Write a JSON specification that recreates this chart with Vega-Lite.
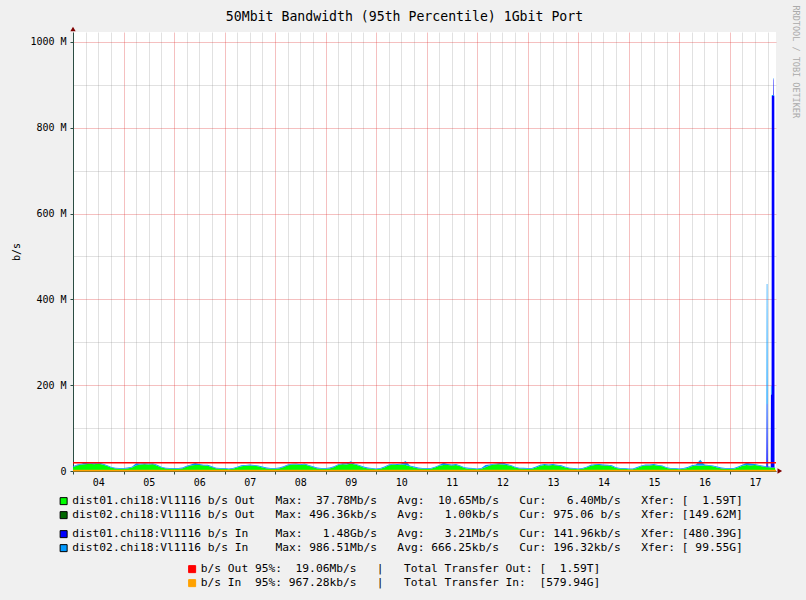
{
"$schema": "https://vega.github.io/schema/vega-lite/v6.json",
"width": 703, "height": 439,
"autosize": {"type": "none"},
"padding": {"left": 73, "top": 32, "right": 30, "bottom": 129},
"background": "#f0f0f0",
"config": {
  "view": {"fill": "#ffffff", "stroke": null},
  "axis": {"labelFont": "DejaVu Sans Mono", "labelFontSize": 10, "labelColor": "#000000", "titleFont": "DejaVu Sans Mono", "titleFontWeight": "normal", "titleColor": "#000000"}
},
"datasets": {
  "traffic": [
{"h":0,"out1":9,"out2":0.001,"in1":0.2,"in2":1.8},
{"h":2,"out1":13,"out2":0.001,"in1":0.2,"in2":2.1},
{"h":4,"out1":15,"out2":0.001,"in1":0.2,"in2":1.6},
{"h":6,"out1":16,"out2":0.001,"in1":0.2,"in2":4.5},
{"h":8,"out1":17,"out2":0.001,"in1":0.2,"in2":2.0},
{"h":10,"out1":16,"out2":0.001,"in1":0.2,"in2":1.7},
{"h":12,"out1":17,"out2":0.001,"in1":0.2,"in2":4.0},
{"h":14,"out1":15,"out2":0.001,"in1":0.2,"in2":2.2},
{"h":16,"out1":12,"out2":0.001,"in1":0.2,"in2":1.5},
{"h":18,"out1":8,"out2":0.001,"in1":0.2,"in2":1.9},
{"h":20,"out1":6,"out2":0.001,"in1":0.2,"in2":1.6},
{"h":22,"out1":5,"out2":0.001,"in1":0.2,"in2":2.0},
{"h":24,"out1":5,"out2":0.001,"in1":0.2,"in2":1.7},
{"h":26,"out1":6,"out2":0.001,"in1":0.2,"in2":2.0},
{"h":28,"out1":8,"out2":0.001,"in1":0.2,"in2":1.5},
{"h":30,"out1":13,"out2":0.001,"in1":0.2,"in2":5.0},
{"h":32,"out1":15,"out2":0.001,"in1":0.2,"in2":2.2},
{"h":34,"out1":16,"out2":0.001,"in1":0.2,"in2":1.8},
{"h":36,"out1":15,"out2":0.001,"in1":0.2,"in2":2.0},
{"h":38,"out1":16,"out2":0.001,"in1":0.2,"in2":1.6},
{"h":40,"out1":12,"out2":0.001,"in1":0.2,"in2":2.1},
{"h":42,"out1":8,"out2":0.001,"in1":0.2,"in2":1.7},
{"h":44,"out1":6,"out2":0.001,"in1":0.2,"in2":1.5},
{"h":46,"out1":5,"out2":0.001,"in1":0.2,"in2":1.9},
{"h":48,"out1":5,"out2":0.001,"in1":0.2,"in2":1.6},
{"h":50,"out1":5,"out2":0.001,"in1":0.2,"in2":2.0},
{"h":52,"out1":6,"out2":0.001,"in1":0.2,"in2":1.8},
{"h":54,"out1":10,"out2":0.001,"in1":0.2,"in2":2.2},
{"h":56,"out1":13,"out2":0.001,"in1":0.2,"in2":1.7},
{"h":58,"out1":14,"out2":0.001,"in1":0.2,"in2":4.5},
{"h":60,"out1":14,"out2":0.001,"in1":0.2,"in2":2.0},
{"h":62,"out1":13,"out2":0.001,"in1":0.2,"in2":1.6},
{"h":64,"out1":12,"out2":0.001,"in1":0.2,"in2":2.1},
{"h":66,"out1":9,"out2":0.001,"in1":0.2,"in2":1.8},
{"h":68,"out1":6,"out2":0.001,"in1":0.2,"in2":1.5},
{"h":70,"out1":5,"out2":0.001,"in1":0.2,"in2":1.9},
{"h":72,"out1":5,"out2":0.001,"in1":0.2,"in2":1.7},
{"h":74,"out1":4,"out2":0.001,"in1":0.2,"in2":1.5},
{"h":76,"out1":5,"out2":0.001,"in1":0.2,"in2":2.0},
{"h":78,"out1":8,"out2":0.001,"in1":0.2,"in2":1.8},
{"h":80,"out1":11,"out2":0.001,"in1":0.2,"in2":2.2},
{"h":82,"out1":12,"out2":0.001,"in1":0.2,"in2":1.6},
{"h":84,"out1":13,"out2":0.001,"in1":0.2,"in2":2.0},
{"h":86,"out1":12,"out2":0.001,"in1":0.2,"in2":1.9},
{"h":88,"out1":11,"out2":0.001,"in1":0.2,"in2":1.5},
{"h":90,"out1":8,"out2":0.001,"in1":0.2,"in2":2.1},
{"h":92,"out1":6,"out2":0.001,"in1":0.2,"in2":1.7},
{"h":94,"out1":5,"out2":0.001,"in1":0.2,"in2":1.6},
{"h":96,"out1":5,"out2":0.001,"in1":0.2,"in2":1.8},
{"h":98,"out1":6,"out2":0.001,"in1":0.2,"in2":2.0},
{"h":100,"out1":9,"out2":0.001,"in1":0.2,"in2":1.6},
{"h":102,"out1":13,"out2":0.001,"in1":0.2,"in2":2.2},
{"h":104,"out1":15,"out2":0.001,"in1":0.2,"in2":1.9},
{"h":106,"out1":15,"out2":0.001,"in1":0.2,"in2":2.4},
{"h":108,"out1":14,"out2":0.001,"in1":0.2,"in2":1.7},
{"h":110,"out1":15,"out2":0.001,"in1":0.2,"in2":2.0},
{"h":112,"out1":12,"out2":0.001,"in1":0.2,"in2":1.6},
{"h":114,"out1":9,"out2":0.001,"in1":0.2,"in2":1.8},
{"h":116,"out1":6,"out2":0.001,"in1":0.2,"in2":2.1},
{"h":118,"out1":5,"out2":0.001,"in1":0.2,"in2":1.5},
{"h":120,"out1":5,"out2":0.001,"in1":0.2,"in2":1.7},
{"h":122,"out1":6,"out2":0.001,"in1":0.2,"in2":1.9},
{"h":124,"out1":9,"out2":0.001,"in1":0.2,"in2":2.1},
{"h":126,"out1":14,"out2":0.001,"in1":0.2,"in2":1.6},
{"h":128,"out1":16,"out2":0.001,"in1":0.2,"in2":2.0},
{"h":130,"out1":15,"out2":0.001,"in1":0.2,"in2":3.0},
{"h":132,"out1":17,"out2":0.001,"in1":0.2,"in2":5.5},
{"h":134,"out1":15,"out2":0.001,"in1":0.2,"in2":1.8},
{"h":136,"out1":12,"out2":0.001,"in1":0.2,"in2":1.6},
{"h":138,"out1":8,"out2":0.001,"in1":0.2,"in2":2.0},
{"h":140,"out1":6,"out2":0.001,"in1":0.2,"in2":1.7},
{"h":142,"out1":5,"out2":0.001,"in1":0.2,"in2":1.5},
{"h":144,"out1":4,"out2":0.001,"in1":0.2,"in2":1.8},
{"h":146,"out1":5,"out2":0.001,"in1":0.2,"in2":1.6},
{"h":148,"out1":8,"out2":0.001,"in1":0.2,"in2":2.0},
{"h":150,"out1":13,"out2":0.001,"in1":0.2,"in2":2.2},
{"h":152,"out1":15,"out2":0.001,"in1":0.2,"in2":1.7},
{"h":154,"out1":14,"out2":0.001,"in1":0.2,"in2":1.9},
{"h":156,"out1":15,"out2":0.001,"in1":0.2,"in2":2.1},
{"h":158,"out1":14,"out2":0.001,"in1":0.2,"in2":9.0},
{"h":160,"out1":11,"out2":0.001,"in1":0.2,"in2":1.6},
{"h":162,"out1":8,"out2":0.001,"in1":0.2,"in2":2.0},
{"h":164,"out1":6,"out2":0.001,"in1":0.2,"in2":1.8},
{"h":166,"out1":5,"out2":0.001,"in1":0.2,"in2":1.5},
{"h":168,"out1":5,"out2":0.001,"in1":0.2,"in2":1.9},
{"h":170,"out1":5,"out2":0.001,"in1":0.2,"in2":1.7},
{"h":172,"out1":8,"out2":0.001,"in1":0.2,"in2":1.6},
{"h":174,"out1":12,"out2":0.001,"in1":0.2,"in2":2.0},
{"h":176,"out1":14,"out2":0.001,"in1":0.2,"in2":5.0},
{"h":178,"out1":14,"out2":0.001,"in1":0.2,"in2":2.2},
{"h":180,"out1":13,"out2":0.001,"in1":0.2,"in2":1.8},
{"h":182,"out1":14,"out2":0.001,"in1":0.2,"in2":2.0},
{"h":184,"out1":11,"out2":0.001,"in1":0.2,"in2":1.5},
{"h":186,"out1":7,"out2":0.001,"in1":0.2,"in2":1.7},
{"h":188,"out1":5,"out2":0.001,"in1":0.2,"in2":2.1},
{"h":190,"out1":5,"out2":0.001,"in1":0.2,"in2":1.6},
{"h":192,"out1":4,"out2":0.001,"in1":0.2,"in2":1.7},
{"h":194,"out1":5,"out2":0.001,"in1":0.2,"in2":2.0},
{"h":196,"out1":9,"out2":0.001,"in1":0.2,"in2":4.5},
{"h":198,"out1":13,"out2":0.001,"in1":0.2,"in2":2.1},
{"h":200,"out1":15,"out2":0.001,"in1":0.2,"in2":1.8},
{"h":202,"out1":16,"out2":0.001,"in1":0.2,"in2":1.6},
{"h":204,"out1":15,"out2":0.001,"in1":0.2,"in2":5.0},
{"h":206,"out1":14,"out2":0.001,"in1":0.2,"in2":2.0},
{"h":208,"out1":12,"out2":0.001,"in1":0.2,"in2":1.7},
{"h":210,"out1":8,"out2":0.001,"in1":0.2,"in2":1.9},
{"h":212,"out1":6,"out2":0.001,"in1":0.2,"in2":1.6},
{"h":214,"out1":5,"out2":0.001,"in1":0.2,"in2":2.2},
{"h":216,"out1":5,"out2":0.001,"in1":0.2,"in2":1.8},
{"h":218,"out1":5,"out2":0.001,"in1":0.2,"in2":1.6},
{"h":220,"out1":8,"out2":0.001,"in1":0.2,"in2":2.0},
{"h":222,"out1":12,"out2":0.001,"in1":0.2,"in2":2.2},
{"h":224,"out1":14,"out2":0.001,"in1":0.2,"in2":1.9},
{"h":226,"out1":13,"out2":0.001,"in1":0.2,"in2":1.7},
{"h":228,"out1":14,"out2":0.001,"in1":0.2,"in2":2.1},
{"h":230,"out1":13,"out2":0.001,"in1":0.2,"in2":1.6},
{"h":232,"out1":11,"out2":0.001,"in1":0.2,"in2":2.0},
{"h":234,"out1":8,"out2":0.001,"in1":0.2,"in2":1.8},
{"h":236,"out1":6,"out2":0.001,"in1":0.2,"in2":1.5},
{"h":238,"out1":5,"out2":0.001,"in1":0.2,"in2":1.7},
{"h":240,"out1":4,"out2":0.001,"in1":0.2,"in2":1.6},
{"h":242,"out1":5,"out2":0.001,"in1":0.2,"in2":2.0},
{"h":244,"out1":8,"out2":0.001,"in1":0.2,"in2":1.8},
{"h":246,"out1":12,"out2":0.001,"in1":0.2,"in2":2.1},
{"h":248,"out1":14,"out2":0.001,"in1":0.2,"in2":1.7},
{"h":250,"out1":14,"out2":0.001,"in1":0.2,"in2":2.3},
{"h":252,"out1":13,"out2":0.001,"in1":0.2,"in2":1.9},
{"h":254,"out1":13,"out2":0.001,"in1":0.2,"in2":1.6},
{"h":256,"out1":11,"out2":0.001,"in1":0.2,"in2":2.0},
{"h":258,"out1":7,"out2":0.001,"in1":0.2,"in2":1.7},
{"h":260,"out1":5,"out2":0.001,"in1":0.2,"in2":1.8},
{"h":262,"out1":5,"out2":0.001,"in1":0.2,"in2":1.5},
{"h":264,"out1":4,"out2":0.001,"in1":0.2,"in2":1.9},
{"h":266,"out1":4,"out2":0.001,"in1":0.2,"in2":1.6},
{"h":268,"out1":7,"out2":0.001,"in1":0.2,"in2":2.1},
{"h":270,"out1":11,"out2":0.001,"in1":0.2,"in2":1.8},
{"h":272,"out1":13,"out2":0.001,"in1":0.2,"in2":2.0},
{"h":274,"out1":13,"out2":0.001,"in1":0.2,"in2":1.7},
{"h":276,"out1":14,"out2":0.001,"in1":0.2,"in2":2.2},
{"h":278,"out1":12,"out2":0.001,"in1":0.2,"in2":1.6},
{"h":280,"out1":11,"out2":0.001,"in1":0.2,"in2":1.9},
{"h":282,"out1":7,"out2":0.001,"in1":0.2,"in2":1.8},
{"h":284,"out1":5,"out2":0.001,"in1":0.2,"in2":1.5},
{"h":286,"out1":5,"out2":0.001,"in1":0.2,"in2":1.7},
{"h":288,"out1":4,"out2":0.001,"in1":0.2,"in2":1.8},
{"h":290,"out1":5,"out2":0.001,"in1":0.2,"in2":1.6},
{"h":292,"out1":7,"out2":0.001,"in1":0.2,"in2":2.0},
{"h":294,"out1":11,"out2":0.001,"in1":0.2,"in2":2.2},
{"h":296,"out1":13,"out2":0.001,"in1":0.2,"in2":1.7},
{"h":298,"out1":12,"out2":0.001,"in1":0.2,"in2":14.0},
{"h":300,"out1":13,"out2":0.001,"in1":0.2,"in2":2.0},
{"h":302,"out1":12,"out2":0.001,"in1":0.2,"in2":1.8},
{"h":304,"out1":11,"out2":0.001,"in1":0.2,"in2":1.6},
{"h":306,"out1":8,"out2":0.001,"in1":0.2,"in2":2.1},
{"h":308,"out1":6,"out2":0.001,"in1":0.2,"in2":1.7},
{"h":310,"out1":5,"out2":0.001,"in1":0.2,"in2":1.9},
{"h":312,"out1":5,"out2":0.001,"in1":0.2,"in2":1.8},
{"h":314,"out1":5,"out2":0.001,"in1":0.2,"in2":1.6},
{"h":316,"out1":8,"out2":0.001,"in1":0.2,"in2":2.0},
{"h":318,"out1":12,"out2":0.001,"in1":0.2,"in2":2.1},
{"h":320,"out1":14,"out2":0.001,"in1":0.2,"in2":5.0},
{"h":322,"out1":13,"out2":0.001,"in1":0.2,"in2":4.5},
{"h":324,"out1":14,"out2":0.001,"in1":0.2,"in2":1.9},
{"h":326,"out1":12,"out2":0.001,"in1":0.2,"in2":1.7},
{"h":328,"out1":10,"out2":0.001,"in1":0.2,"in2":1.8},
{"h":329.4,"out1":9,"out2":0.001,"in1":0.2,"in2":1.8},
{"h":329.6,"out1":9,"out2":0.001,"in1":147,"in2":280},
{"h":329.9,"out1":9,"out2":0.001,"in1":147,"in2":280},
{"h":330.1,"out1":9,"out2":0.001,"in1":0.2,"in2":1.7},
{"h":331.5,"out1":8,"out2":0.001,"in1":0.2,"in2":1.8},
{"h":331.6,"out1":8,"out2":0.001,"in1":170,"in2":20},
{"h":331.9,"out1":8,"out2":0.001,"in1":170,"in2":20},
{"h":332.0,"out1":8,"out2":0.001,"in1":866,"in2":2},
{"h":332.7,"out1":8,"out2":0.001,"in1":866,"in2":2},
{"h":332.75,"out1":8,"out2":0.001,"in1":905,"in2":2},
{"h":332.95,"out1":8,"out2":0.001,"in1":905,"in2":2},
{"h":333.0,"out1":8,"out2":0.001,"in1":866,"in2":2},
{"h":333.2,"out1":7,"out2":0.001,"in1":866,"in2":2},
{"h":333.3,"out1":7,"out2":0.001,"in1":0.2,"in2":1.6},
{"h":333.6,"out1":7,"out2":0.001,"in1":0.2,"in2":1.6}
  ],
  "p95": [
    {"line": "out95", "v": 19.06},
    {"line": "in95", "v": 0.967}
  ],
  "arrows": [
    {"dir": "up", "h": 0, "v": 1030},
    {"dir": "right", "h": 335.8, "v": 0}
  ]
},
"layer": [
  {
    "data": {"name": "traffic"},
    "transform": [
      {"fold": ["out1", "out2", "in1", "in2"], "as": ["series", "bps"]},
      {"lookup": "series", "from": {"data": {"values": [{"series": "out1", "rank": 1}, {"series": "out2", "rank": 2}, {"series": "in1", "rank": 3}, {"series": "in2", "rank": 4}]}, "key": "series", "fields": ["rank"]}},
      {"stack": "bps", "groupby": ["h"], "sort": [{"field": "rank", "order": "ascending"}], "as": ["y0", "y1"]},
      {"filter": {"field": "series", "oneOf": ["out1", "out2"]}}
    ],
    "mark": {"type": "area", "interpolate": "linear", "opacity": 1},
    "encoding": {
      "x": {"field": "h", "type": "quantitative", "scale": {"domain": [0, 334], "nice": false, "zero": false},
        "axis": {"orient": "bottom", "values": [6,12,18,30,36,42,54,60,66,78,84,90,102,108,114,126,132,138,150,156,162,174,180,186,198,204,210,222,228,234,246,252,258,270,276,282,294,300,306,318,324,330], "grid": true, "gridColor": "#8f8f8f", "gridOpacity": 0.27, "labels": false, "ticks": false, "domain": false,
          "title": "50Mbit Bandwidth (95th Percentile) 1Gbit Port", "titleX": 331, "titleY": -450.5, "titleAngle": 0, "titleAlign": "center", "titleBaseline": "alphabetic", "titleFontSize": 13.2, "titleColor": "#000000"}},
      "y": {"field": "y1", "type": "quantitative", "scale": {"domain": [0, 1023], "nice": false, "zero": false},
        "axis": {"orient": "left", "values": [100, 300, 500, 700, 900], "grid": true, "gridColor": "#8f8f8f", "gridOpacity": 0.27, "labels": false, "ticks": false, "domain": false, "title": null}},
      "y2": {"field": "y0"},
      "fill": {"field": "series", "type": "nominal",
        "scale": {"domain": ["out1", "out2"], "range": ["#00ff00", "#006600"]},
        "legend": {"orient": "none", "legendX": -15, "legendY": 463.5, "title": null, "padding": 0,
          "labelExpr": "datum.value == 'out1' ? 'dist01.chi18:Vl1116\u00a0b/s\u00a0Out\u00a0\u00a0\u00a0Max:\u00a0\u00a037.78Mb/s\u00a0\u00a0\u00a0Avg:\u00a0\u00a010.65Mb/s\u00a0\u00a0\u00a0Cur:\u00a0\u00a0\u00a06.40Mb/s\u00a0\u00a0\u00a0Xfer:\u00a0[\u00a0\u00a01.59T]' : 'dist02.chi18:Vl1116\u00a0b/s\u00a0Out\u00a0\u00a0\u00a0Max:\u00a0496.36kb/s\u00a0\u00a0\u00a0Avg:\u00a0\u00a0\u00a01.00kb/s\u00a0\u00a0\u00a0Cur:\u00a0975.06\u00a0b/s\u00a0\u00a0\u00a0Xfer:\u00a0[149.62M]'",
          "symbolType": "square", "symbolSize": 49, "symbolStrokeColor": "#000000", "symbolStrokeWidth": 1, "symbolOpacity": 1,
          "labelFont": "DejaVu Sans Mono", "labelFontSize": 11.25, "labelColor": "#000000", "labelLimit": 900, "labelOffset": 3, "rowPadding": 1,
          "encode": {"symbols": {"update": {"stroke": {"value": "#000000"}, "strokeWidth": {"value": 1}, "opacity": {"value": 1}}}}}}
    }
  },
  {
    "data": {"name": "traffic"},
    "transform": [
      {"fold": ["out1", "out2", "in1", "in2"], "as": ["series", "bps"]},
      {"lookup": "series", "from": {"data": {"values": [{"series": "out1", "rank": 1}, {"series": "out2", "rank": 2}, {"series": "in1", "rank": 3}, {"series": "in2", "rank": 4}]}, "key": "series", "fields": ["rank"]}},
      {"stack": "bps", "groupby": ["h"], "sort": [{"field": "rank", "order": "ascending"}], "as": ["y0", "y1"]},
      {"filter": {"field": "series", "oneOf": ["in1", "in2"]}}
    ],
    "mark": {"type": "area", "interpolate": "linear", "opacity": 1},
    "encoding": {
      "x": {"field": "h", "type": "quantitative",
        "axis": {"orient": "bottom", "values": [0,24,48,72,96,120,144,168,192,216,240,264,288,312], "grid": true, "gridColor": "#de3030", "gridOpacity": 0.3, "labels": false, "ticks": true, "tickSize": 3, "tickColor": "#2c4d43", "domain": false, "title": null}},
      "y": {"field": "y1", "type": "quantitative",
        "axis": {"orient": "left", "values": [0, 200, 400, 600, 800, 1000], "grid": true, "gridColor": "#de3030", "gridOpacity": 0.3,
          "labelExpr": "datum.value == 0 ? '0' : datum.value + ' M'", "labelPadding": 4, "labelFlush": false, "labelOverlap": false,
          "ticks": true, "tickSize": 3, "tickColor": "#2c4d43", "domain": true, "domainColor": "#2c4d43",
          "title": "b/s", "titleX": -57, "titleY": 219.5, "titleAngle": -90, "titleAlign": "center", "titleBaseline": "middle", "titleFontSize": 10}},
      "y2": {"field": "y0"},
      "color": {"field": "series", "type": "nominal",
        "scale": {"domain": ["in1", "in2"], "range": ["#0000ff", "#0099ff"]},
        "legend": {"orient": "none", "legendX": -15, "legendY": 496.5, "title": null, "padding": 0,
          "labelExpr": "datum.value == 'in1' ? 'dist01.chi18:Vl1116\u00a0b/s\u00a0In\u00a0\u00a0\u00a0\u00a0Max:\u00a0\u00a0\u00a01.48Gb/s\u00a0\u00a0\u00a0Avg:\u00a0\u00a0\u00a03.21Mb/s\u00a0\u00a0\u00a0Cur:\u00a0141.96kb/s\u00a0\u00a0\u00a0Xfer:\u00a0[480.39G]' : 'dist02.chi18:Vl1116\u00a0b/s\u00a0In\u00a0\u00a0\u00a0\u00a0Max:\u00a0986.51Mb/s\u00a0\u00a0\u00a0Avg:\u00a0666.25kb/s\u00a0\u00a0\u00a0Cur:\u00a0196.32kb/s\u00a0\u00a0\u00a0Xfer:\u00a0[\u00a099.55G]'",
          "symbolType": "square", "symbolSize": 49, "symbolStrokeColor": "#000000", "symbolStrokeWidth": 1, "symbolOpacity": 1,
          "labelFont": "DejaVu Sans Mono", "labelFontSize": 11.25, "labelColor": "#000000", "labelLimit": 900, "labelOffset": 3, "rowPadding": 1,
          "encode": {"symbols": {"update": {"stroke": {"value": "#000000"}, "strokeWidth": {"value": 1}, "opacity": {"value": 1}}}}}}
    }
  },
  {
    "data": {"name": "p95"},
    "mark": {"type": "rule", "strokeWidth": 1.6},
    "encoding": {
      "y": {"field": "v", "type": "quantitative", "axis": null},
      "stroke": {"field": "line", "type": "nominal",
        "scale": {"domain": ["out95", "in95"], "range": ["#ff0000", "#ffa200"]},
        "legend": {"orient": "none", "legendX": 113.5, "legendY": 531.5, "title": null, "padding": 0,
          "labelExpr": "datum.value == 'out95' ? 'b/s\u00a0Out\u00a095%:\u00a0\u00a019.06Mb/s\u00a0\u00a0\u00a0|\u00a0\u00a0\u00a0Total\u00a0Transfer\u00a0Out:\u00a0[\u00a0\u00a01.59T]' : 'b/s\u00a0In\u00a0\u00a095%:\u00a0967.28kb/s\u00a0\u00a0\u00a0|\u00a0\u00a0\u00a0Total\u00a0Transfer\u00a0In:\u00a0\u00a0[579.94G]'",
          "symbolType": "square", "symbolSize": 49, "symbolStrokeColor": "#000000", "symbolStrokeWidth": 1, "symbolOpacity": 1,
          "labelFont": "DejaVu Sans Mono", "labelFontSize": 11.25, "labelColor": "#000000", "labelLimit": 900, "labelOffset": 3, "rowPadding": 1,
          "encode": {"symbols": {"update": {"fill": {"scale": "stroke", "field": "value"}, "stroke": {"value": "#000000"}, "strokeWidth": {"value": 1}, "opacity": {"value": 1}}}}}}
    }
  },
  {
    "data": {"name": "arrows"},
    "mark": {"type": "point", "filled": true, "size": 28, "color": "#7f0000", "opacity": 1},
    "encoding": {
      "x": {"field": "h", "type": "quantitative",
        "axis": {"orient": "bottom", "values": [12,36,60,84,108,132,156,180,204,228,252,276,300,324],
          "labelExpr": "(floor(datum.value / 24) + 4 < 10 ? '0' : '') + (floor(datum.value / 24) + 4)",
          "labelFlush": false, "labelOverlap": false, "labelPadding": 6, "ticks": false, "grid": false, "domain": true, "domainColor": "#2c4d43", "title": null}},
      "y": {"field": "v", "type": "quantitative",
        "axis": {"orient": "right", "labels": false, "ticks": false, "grid": false, "domain": false,
          "title": "RRDTOOL / TOBI OETIKER", "titleX": 19, "titleY": -27, "titleAngle": 90, "titleAlign": "left", "titleBaseline": "middle", "titleFontSize": 8.5, "titleColor": "#aaaaaa"}},
      "shape": {"field": "dir", "type": "nominal", "scale": {"domain": ["up", "right"], "range": ["triangle-up", "triangle-right"]}, "legend": null}
    }
  }
],
"resolve": {"axis": {"x": "independent", "y": "independent"}}
}
